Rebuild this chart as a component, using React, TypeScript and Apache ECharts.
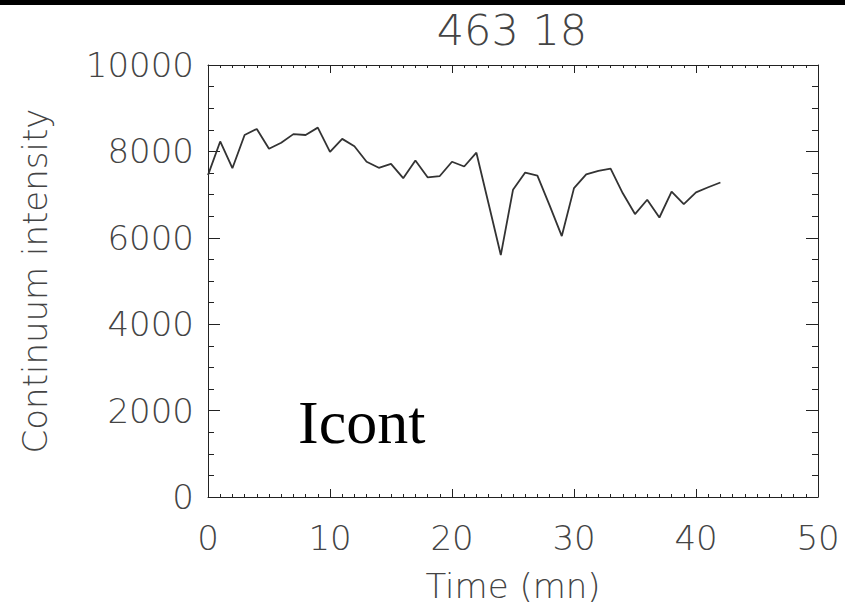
import React, { useEffect, useRef } from "react";
import * as echarts from "echarts";

const times: number[] = [
  0, 1, 2, 3, 4, 5, 6, 7, 8, 9, 10, 11, 12, 13, 14, 15, 16, 17, 18, 19, 20,
  21, 22, 23, 24, 25, 26, 27, 28, 29, 30, 31, 32, 33, 34, 35, 36, 37, 38, 39,
  40, 41, 42,
];
const intensity: number[] = [
  7450, 8230, 7610, 8380, 8520, 8060, 8200, 8400, 8380, 8550, 7990, 8290, 8120,
  7760, 7620, 7710, 7380, 7790, 7400, 7430, 7760, 7650, 7970, 6790, 5600, 7110,
  7510, 7440, 6750, 6040, 7150, 7470, 7550, 7600, 7030, 6550, 6880, 6470, 7070,
  6780, 7050, 7170, 7280,
];
const titleText = "463 18";
const xName = "Time (mn)";
const yName = "Continuum intensity";
const panelLabel = "Icont";

const FONT = "DejaVu Sans";
const GRAY = "#444";
const AXIS = "#222";

export default function App() {
  const ref = useRef<HTMLDivElement>(null);
  useEffect(() => {
    document.body.style.margin = "0";
    const chart = echarts.init(ref.current!, undefined, { renderer: "svg" });
    const labelStyle = { fontFamily: FONT, fontSize: 34, fontWeight: 200 as any, color: GRAY };
    const xCommon = {
      type: "value" as const,
      gridIndex: 0,
      min: 0,
      max: 50,
      interval: 10,
      axisLine: { show: true, onZero: false, lineStyle: { color: AXIS, width: 1 } },
      axisTick: { show: true, inside: true, length: 8, lineStyle: { color: AXIS } },
      minorTick: { show: true, splitNumber: 10, length: 3, lineStyle: { color: AXIS } },
      splitLine: { show: false },
    };
    const yCommon = {
      type: "value" as const,
      gridIndex: 0,
      min: 0,
      max: 10000,
      interval: 2000,
      axisLine: { show: true, onZero: false, lineStyle: { color: AXIS, width: 1 } },
      axisTick: { show: true, inside: true, length: 12, lineStyle: { color: AXIS } },
      minorTick: { show: true, splitNumber: 4, length: 6, lineStyle: { color: AXIS } },
      splitLine: { show: false },
    };
    chart.setOption({
      animation: false,
      backgroundColor: "#fff",
      grid: { left: 208, top: 65, right: 27, bottom: 111 },
      xAxis: [
        {
          ...xCommon,
          position: "bottom",
          name: xName,
          nameLocation: "middle",
          nameGap: 72,
          nameTextStyle: { ...labelStyle },
          axisLabel: { ...labelStyle, margin: 24, formatter: (v: number) => String(v) },
        },
        { ...xCommon, position: "top", axisLabel: { show: false } },
      ],
      yAxis: [
        {
          ...yCommon,
          position: "left",
          name: yName,
          nameLocation: "middle",
          nameGap: 156,
          nameTextStyle: { ...labelStyle },
          axisLabel: { ...labelStyle, margin: 14, formatter: (v: number) => String(v) },
        },
        { ...yCommon, position: "right", axisLabel: { show: false } },
      ],
      series: [
        {
          type: "line",
          xAxisIndex: 0,
          yAxisIndex: 0,
          data: times.map((t, i) => [t, intensity[i]]),
          showSymbol: false,
          lineStyle: { color: "#333", width: 1.8 },
        },
      ],
      graphic: [
        { type: "rect", shape: { x: 0, y: 0, width: 845, height: 5 }, style: { fill: "#000" } },
        {
          type: "text",
          x: 512,
          y: 30,
          style: {
            text: titleText,
            fontFamily: FONT,
            fontSize: 43,
            fontWeight: 200,
            fill: GRAY,
            align: "center",
            verticalAlign: "middle",
          },
        },
        {
          type: "text",
          x: 298,
          y: 422,
          style: {
            text: panelLabel,
            fontFamily: "Liberation Serif",
            fontSize: 62,
            fill: "#000",
            align: "left",
            verticalAlign: "middle",
          },
        },
      ],
    });
    return () => chart.dispose();
  }, []);
  return <div ref={ref} style={{ width: 845, height: 608 }} />;
}
